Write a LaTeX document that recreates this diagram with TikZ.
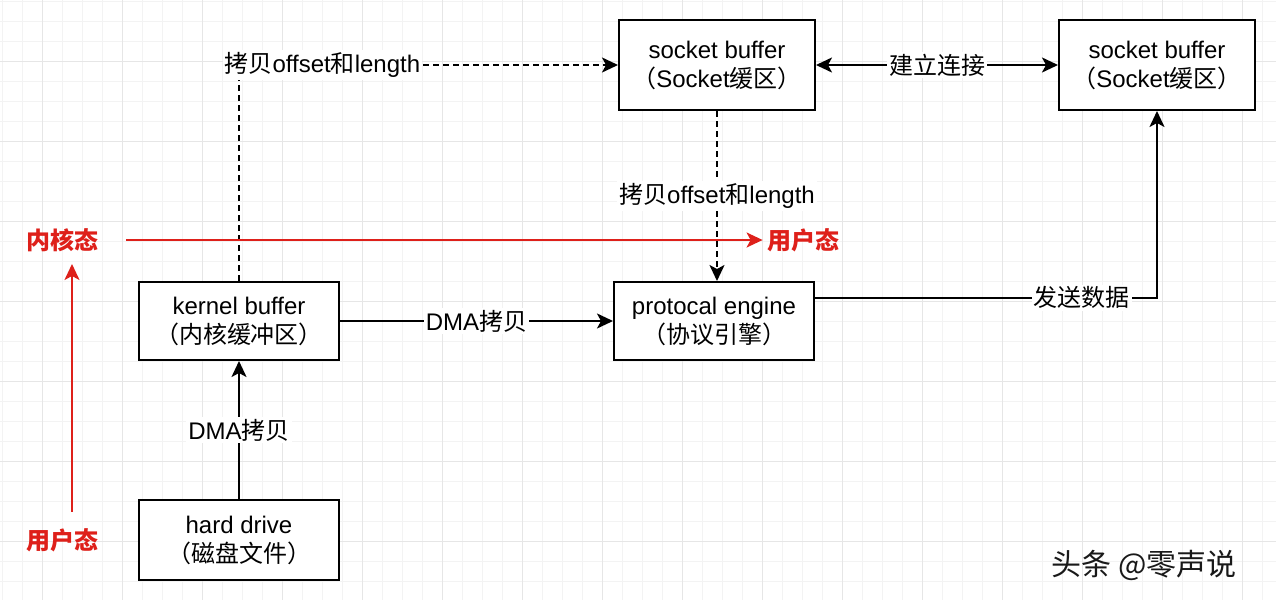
\documentclass[tikz,border=0pt]{standalone}
\usepackage{fontspec}
\setmainfont{Liberation Sans}
\newfontfamily\cjk{Noto Sans CJK SC}
\usetikzlibrary{arrows.meta}
\definecolor{statered}{RGB}{222,32,26}
\definecolor{gridminor}{RGB}{243,243,243}
\definecolor{gridmajor}{RGB}{230,230,230}

\begin{document}
\begin{tikzpicture}[x=0.5pt,y=-0.5pt,
  font=\fontsize{12}{14.5}\selectfont,
  tip/.tip={Stealth[length=8pt,width=7.5pt,inset=2pt]},
  buf/.style={draw,line width=1pt,align=center,inner sep=0pt,fill=white,
    minimum width=100pt,minimum height=39pt},
  sock/.style={buf,minimum width=98pt,minimum height=45pt},
  flow/.style={line width=1pt,-tip},
  copyline/.style={flow,dash pattern=on 3pt off 2pt},
  lbl/.style={fill=white,inner sep=1pt},
  state/.style={text=statered,inner sep=2pt,font=\fontsize{12}{14.5}\selectfont\cjk\bfseries},
  redflow/.style={draw=statered,line width=1pt,-tip}]
\useasboundingbox[fill=white] (0,0) rectangle (1276,600);
\foreach \gx in {2,22,...,1262} \draw[gridminor,line width=0.5pt] (\gx,0) -- (\gx,600);
\foreach \gy in {1,21,...,581} \draw[gridminor,line width=0.5pt] (0,\gy) -- (1276,\gy);
\foreach \gx in {42,122,...,1242} \draw[gridmajor,line width=0.5pt] (\gx,0) -- (\gx,600);
\foreach \gy in {61,141,...,541} \draw[gridmajor,line width=0.5pt] (0,\gy) -- (1276,\gy);

\node[sock] (sb1) at (717,65) {socket buffer\\{\cjk （}Socket{\cjk 缓区）}};
\node[sock] (sb2) at (1157,65) {socket buffer\\{\cjk （}Socket{\cjk 缓区）}};
\node[buf] (kb) at (239,321) {kernel buffer\\{\cjk （内核缓冲区）}};
\node[buf] (pe) at (714,321) {protocal engine\\{\cjk （协议引擎）}};
\node[buf,minimum height=40pt] (hd) at (239,540) {hard drive\\{\cjk （磁盘文件）}};

\node[state] (ktop) at (62,240) {内核态};
\node[state] (utop) at (803,240) {用户态};
\node[state] (ubot) at (62,540) {用户态};

\draw[flow] (hd) -- node[lbl] {DMA{\cjk 拷贝}} (kb);
\draw[flow] (kb) -- node[lbl] {DMA{\cjk 拷贝}} (pe);
\draw[copyline] (kb) |- node[lbl,pos=0.61] {{\cjk 拷贝}offset{\cjk 和}length} (sb1);
\draw[copyline] (sb1.south) -- node[lbl] {{\cjk 拷贝}offset{\cjk 和}length} (sb1.south |- pe.north);
\draw[flow,tip-tip] (sb1) -- node[lbl] {\cjk 建立连接} (sb2);
\draw[flow] (pe.13) -| node[lbl,pos=0.39] {\cjk 发送数据} (sb2);

\draw[redflow] ([xshift=12pt]ktop.east) -- (utop.west);
\draw[redflow] ([xshift=5pt,yshift=6pt]ubot.north) -- ([xshift=5pt,yshift=-4pt]ktop.south);

\node[text=black!90,font=\fontsize{15}{18}\selectfont\cjk] (mark) at (1144,565) {头条 @零声说};
\end{tikzpicture}
\end{document}
